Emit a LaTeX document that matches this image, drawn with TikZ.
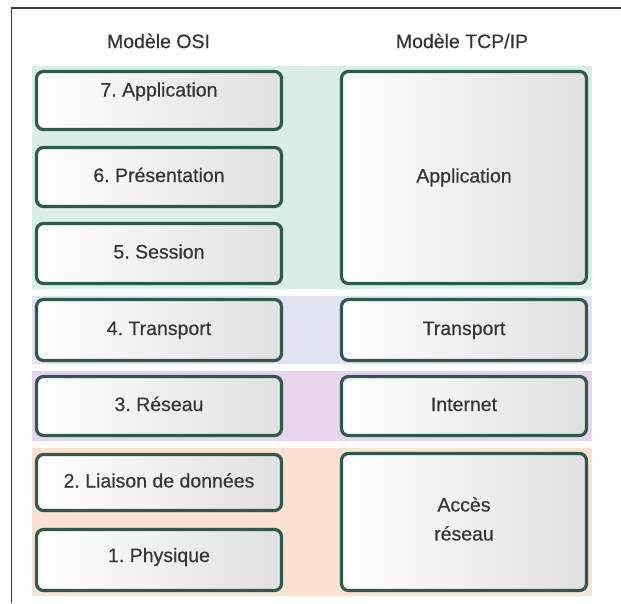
\documentclass[tikz,border=0pt]{standalone}
\usepackage{fontspec}
\setmainfont{Liberation Sans}
\newfontfamily\layerfont{Liberation Sans}[FakeBold=0.45]
\frenchspacing
\definecolor{framegray}{HTML}{3A3A3A}
\definecolor{txtgray}{HTML}{353535}
\definecolor{boxline}{HTML}{2C5A4C}
\definecolor{bandgreen}{HTML}{D8EEE6}
\definecolor{bandlav}{HTML}{E3E2F3}
\definecolor{bandmauve}{HTML}{E9D4EB}
\definecolor{bandpeach}{HTML}{FDE1CF}
\begin{document}
\begin{tikzpicture}[x=1pt,y=-1pt,
  layer/.style={draw=boxline, line width=3.2pt, rounded corners=7pt,
    left color=white, right color=black!12,
    minimum width=245pt, inner sep=0pt,
    text height=14pt, text depth=4pt, text=txtgray,
    font=\layerfont\fontsize{19.5}{29}\selectfont, align=center},
  header/.style={text=txtgray, font=\layerfont\fontsize{19.5}{24}\selectfont, inner sep=0pt}]
\useasboundingbox (0,0) rectangle (621,603);
\fill[white] (0,0) rectangle (621,603);

% coloured bands linking the two models
\fill[bandgreen]  (32,66)  rectangle (592,289);
\fill[bandlav]    (32,296) rectangle (592,364);
\fill[bandmauve]  (32,371) rectangle (592,441);
\fill[bandpeach]  (32,448) rectangle (592,596);

% outer frame (top and left edges)
\draw[framegray, line width=1.3pt] (11.5,603) -- (11.5,8) -- (621,8);

% column headings
\node[header] (hosi) at (158.5,41) {Modèle OSI};
\node[header] (htcp) at (462,41) {Modèle TCP/IP};

% OSI layers
\node[layer, minimum height=58pt] (o7) at (159,100.5) {\raisebox{9pt}{7. Application}};
\node[layer, minimum height=59pt] (o6) at (159,177) {6. Présentation};
\node[layer, minimum height=60pt] (o5) at (159,253.5) {5. Session};
\node[layer, minimum height=61pt] (o4) at (159,330) {4. Transport};
\node[layer, minimum height=59pt] (o3) at (159,406) {3. Réseau};
\node[layer, minimum height=56pt] (o2) at (159,482.5) {2. Liaison de données};
\node[layer, minimum height=61pt] (o1) at (159,560) {\raisebox{3pt}{1. Physique}};

% TCP/IP layers
\node[layer, minimum height=212pt] (t4) at (464,177.5) {Application};
\node[layer, minimum height=61pt]  (t3) at (464,330) {Transport};
\node[layer, minimum height=59pt]  (t2) at (464,406) {Internet};
\node[layer, minimum height=137pt, text height=41pt] (t1) at (464,522) {Accès\\réseau};
\end{tikzpicture}
\end{document}
